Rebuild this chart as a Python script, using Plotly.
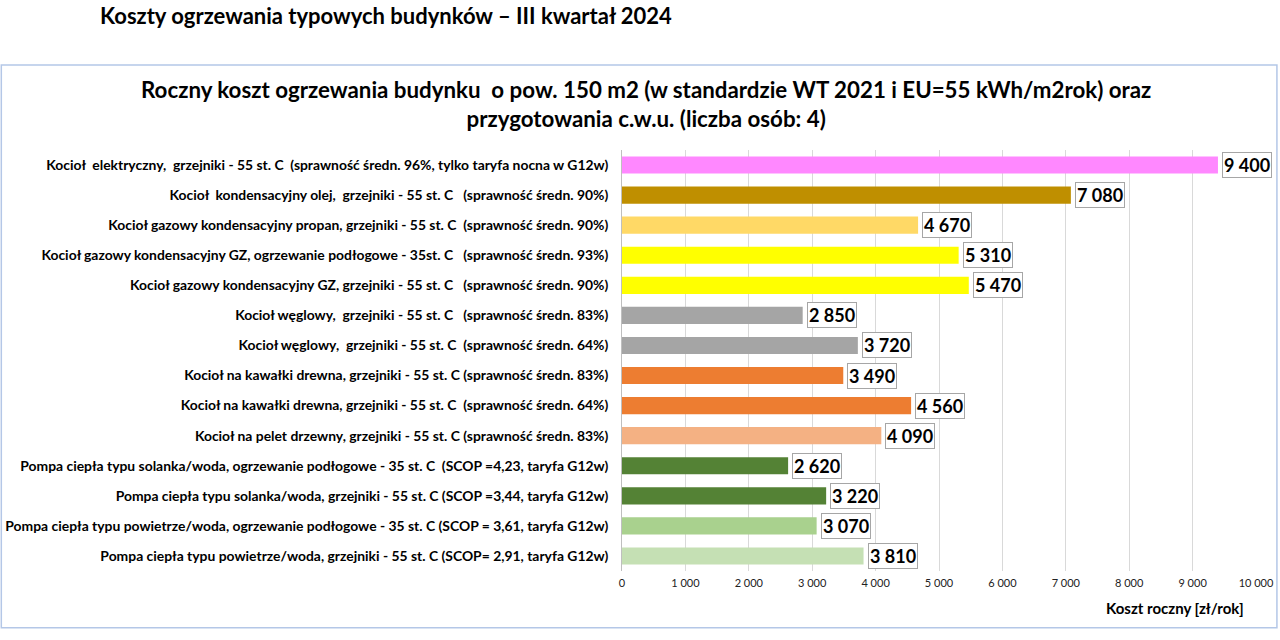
import plotly.graph_objects as go

categories = [
    "Kocioł  elektryczny,  grzejniki - 55 st. C  (sprawność średn. 96%, tylko taryfa nocna w G12w)",
    "Kocioł  kondensacyjny olej,  grzejniki - 55 st. C   (sprawność średn. 90%)",
    "Kocioł gazowy kondensacyjny propan, grzejniki - 55 st. C  (sprawność średn. 90%)",
    "Kocioł gazowy kondensacyjny GZ, ogrzewanie podłogowe - 35st. C   (sprawność średn. 93%)",
    "Kocioł gazowy kondensacyjny GZ, grzejniki - 55 st. C   (sprawność średn. 90%)",
    "Kocioł węglowy,  grzejniki - 55 st. C   (sprawność średn. 83%)",
    "Kocioł węglowy,  grzejniki - 55 st. C  (sprawność średn. 64%)",
    "Kocioł na kawałki drewna, grzejniki - 55 st. C (sprawność średn. 83%)",
    "Kocioł na kawałki drewna, grzejniki - 55 st. C  (sprawność średn. 64%)",
    "Kocioł na pelet drzewny, grzejniki - 55 st. C (sprawność średn. 83%)",
    "Pompa ciepła typu solanka/woda, ogrzewanie podłogowe - 35 st. C  (SCOP =4,23, taryfa G12w)",
    "Pompa ciepła typu solanka/woda, grzejniki - 55 st. C (SCOP =3,44, taryfa G12w)",
    "Pompa ciepła typu powietrze/woda, ogrzewanie podłogowe - 35 st. C (SCOP = 3,61, taryfa G12w)",
    "Pompa ciepła typu powietrze/woda, grzejniki - 55 st. C (SCOP= 2,91, taryfa G12w)",
]
values = [9400, 7080, 4670, 5310, 5470, 2850, 3720, 3490, 4560, 4090, 2620, 3220, 3070, 3810]
value_labels = ["9 400", "7 080", "4 670", "5 310", "5 470", "2 850", "3 720", "3 490",
                "4 560", "4 090", "2 620", "3 220", "3 070", "3 810"]
colors = ["#FF88FF", "#BF8F00", "#FFD966", "#FFFF00", "#FFFF00", "#A5A5A5", "#A5A5A5",
          "#ED7D31", "#ED7D31", "#F4B183", "#548235", "#548235", "#A9D18E", "#C5E0B4"]
tick_vals = [0, 1000, 2000, 3000, 4000, 5000, 6000, 7000, 8000, 9000, 10000]
tick_text = ["0", "1 000", "2 000", "3 000", "4 000", "5 000", "6 000", "7 000", "8 000", "9 000", "10 000"]

FONT = "Lato"

fig = go.Figure()
fig.add_trace(go.Bar(
    x=values, y=categories, orientation="h",
    marker=dict(color=colors, line=dict(width=0)),
    hoverinfo="x+y",
))

for v, c, t in zip(values, categories, value_labels):
    fig.add_annotation(
        x=v, y=c, xref="x", yref="y", text="<b>" + t + "</b>",
        showarrow=False, xanchor="left", xshift=4,
        font=dict(family=FONT, size=18, color="#000000"),
        bgcolor="#FFFFFF", bordercolor="#A6A6A6", borderwidth=1, borderpad=1,
    )

# chart title
fig.add_annotation(
    x=0.038, y=1.109, xref="paper", yref="paper",
    text="<b>Roczny koszt ogrzewania budynku  o pow. 150 m2 (w standardzie WT 2021 i EU=55 kWh/m2rok) oraz<br>przygotowania c.w.u. (liczba osób: 4)</b>",
    showarrow=False, xanchor="center", yanchor="middle",
    font=dict(family=FONT, size=22.3, color="#000000"), align="center",
)
# axis title
fig.add_annotation(
    x=0.985, y=-0.088, xref="paper", yref="paper",
    text="<b>Koszt roczny [zł/rok]</b>", showarrow=False,
    xanchor="right", yanchor="middle",
    font=dict(family=FONT, size=15, color="#000000"),
)

# frame
fig.add_shape(type="rect", xref="paper", yref="paper",
              x0=-0.979, x1=1.033, y0=-0.135, y1=1.202,
              line=dict(color="#B4C7E7", width=1.5), fillcolor="rgba(0,0,0,0)", layer="below")

fig.update_layout(
    width=1280, height=640,
    margin=dict(l=622, r=24, t=150, b=69),
    paper_bgcolor="#FFFFFF", plot_bgcolor="#FFFFFF",
    bargap=0.43,
    showlegend=False,
    title=dict(
        text="<b>Koszty ogrzewania typowych budynków – III kwartał 2024</b>",
        x=100 / 1280, xanchor="left", xref="container",
        y=1 - 16 / 640, yanchor="middle", yref="container",
        font=dict(family=FONT, size=22, color="#000000"),
    ),
    xaxis=dict(
        range=[0, 10000], tickvals=tick_vals, ticktext=tick_text,
        showgrid=True, gridcolor="#D9D9D9", gridwidth=1,
        zeroline=False, showline=False, automargin=False,
        tickfont=dict(family=FONT, size=11, color="#222222"),
        ticks="", ticklabelstandoff=4,
        tickprefix="<b>", ticksuffix="</b>",
    ),
    yaxis=dict(
        autorange="reversed", showline=True, linecolor="#BFBFBF", linewidth=1,
        automargin=False,
        tickfont=dict(family=FONT, size=13.9, color="#000000"),
        ticks="", ticklabelstandoff=10,
        tickprefix="<b>", ticksuffix="</b>",
    ),
)

fig.write_html("out.html")
